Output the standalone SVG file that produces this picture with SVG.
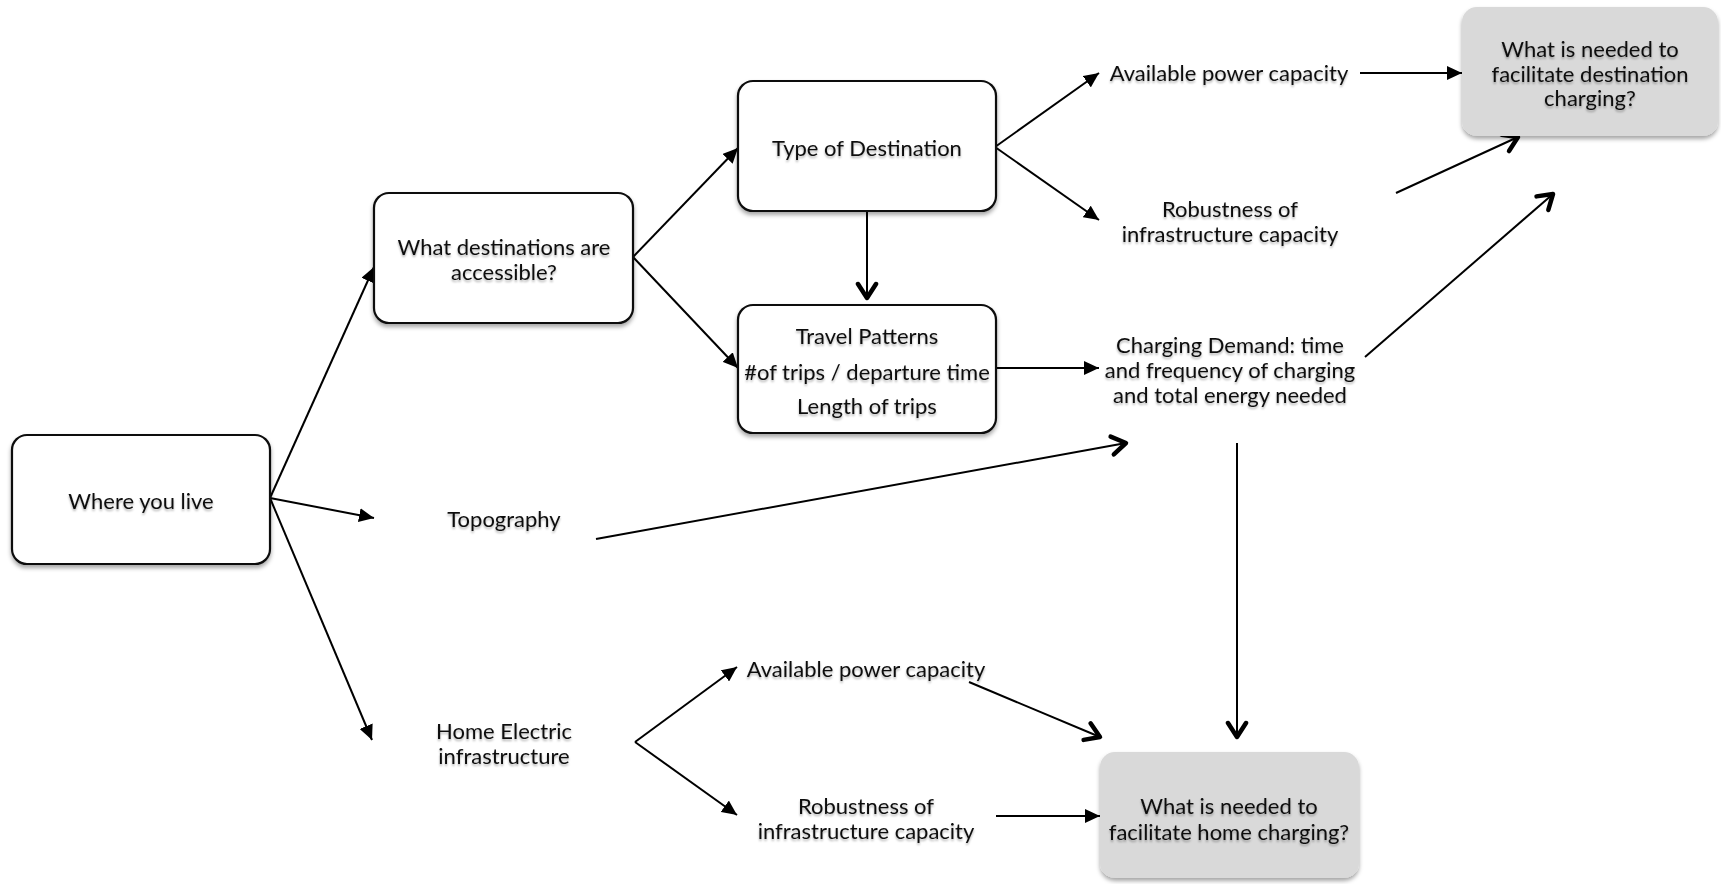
<svg xmlns="http://www.w3.org/2000/svg" width="1721" height="884" viewBox="0 0 1721 884">
<style>
text{font-family:Lato,"Liberation Sans",sans-serif;font-size:22px;fill:#111;text-anchor:middle;}
.box{fill:#fff;stroke:#111;stroke-width:2.2;}
.gbox{fill:#d9d9d9;stroke:none;}
.c line{stroke:#000;stroke-width:2;fill:none;}
.f{marker-end:url(#tri);}
.o{marker-end:url(#vee);}
</style>
<defs>
<filter id="sh" x="-10%" y="-10%" width="120%" height="130%">
<feDropShadow dx="0" dy="3" stdDeviation="2" flood-color="#000" flood-opacity="0.35"/>
</filter>
<filter id="tsh" x="-10%" y="-20%" width="120%" height="160%">
<feDropShadow dx="0" dy="2" stdDeviation="1.2" flood-color="#000" flood-opacity="0.3"/>
</filter>
<marker id="tri" markerUnits="userSpaceOnUse" markerWidth="16" markerHeight="14" refX="15" refY="7" orient="auto">
<path d="M0,0 L15,7 L0,14 z" fill="#000"/>
</marker>
<marker id="vee" markerUnits="userSpaceOnUse" markerWidth="22" markerHeight="24" refX="17" refY="12" orient="auto">
<path d="M3,3 L17,12 L3,21" fill="none" stroke="#000" stroke-width="4.5" stroke-linecap="round" stroke-linejoin="round"/>
</marker>
</defs>
<rect width="1721" height="884" fill="#fff"/>

<g class="c" id="connectors">
<line class="f" x1="270" y1="498" x2="374" y2="267"/>
<line class="f" x1="270" y1="498" x2="374" y2="518"/>
<line class="f" x1="270" y1="498" x2="372" y2="740"/>
<line class="f" x1="633" y1="257" x2="738" y2="148"/>
<line class="f" x1="633" y1="257" x2="738" y2="368"/>
<line class="o" x1="867" y1="192" x2="867" y2="298"/>
<line class="f" x1="995" y1="147" x2="1099" y2="73"/>
<line class="f" x1="995" y1="147" x2="1099" y2="220"/>
<line class="f" x1="1360" y1="73" x2="1462" y2="73"/>
<line class="o" x1="1396" y1="193" x2="1518" y2="137"/>
<line class="f" x1="995" y1="368" x2="1099" y2="368"/>
<line class="o" x1="1365" y1="357" x2="1553" y2="194"/>
<line class="o" x1="596" y1="539" x2="1126" y2="443"/>
<line class="o" x1="1237" y1="443" x2="1237" y2="737"/>
<line class="f" x1="635" y1="742" x2="737" y2="667"/>
<line class="f" x1="635" y1="742" x2="737" y2="815"/>
<line class="o" x1="969" y1="682" x2="1100" y2="737"/>
<line class="f" x1="996" y1="816" x2="1100" y2="816"/>
</g>

<g id="where-you-live">
<rect class="box" x="12" y="435" width="258" height="129" rx="15" filter="url(#sh)"/>
<text x="141" y="509" filter="url(#tsh)">Where you live</text>
</g>

<g id="what-destinations">
<rect class="box" x="374" y="193" width="259" height="130" rx="15" filter="url(#sh)"/>
<text x="504" y="255" filter="url(#tsh)">What destinations are</text>
<text x="504" y="280" filter="url(#tsh)">accessible?</text>
</g>

<g id="topography">
<text x="504" y="527" filter="url(#tsh)">Topography</text>
</g>

<g id="home-electric">
<text x="504" y="739" filter="url(#tsh)">Home Electric</text>
<text x="504" y="764" filter="url(#tsh)">infrastructure</text>
</g>

<g id="type-of-destination">
<rect class="box" x="738" y="81" width="258" height="130" rx="15" filter="url(#sh)"/>
<text x="867" y="156" filter="url(#tsh)">Type of Destination</text>
</g>

<g id="travel-patterns">
<rect class="box" x="738" y="305" width="258" height="128" rx="15" filter="url(#sh)"/>
<text x="867" y="344" filter="url(#tsh)">Travel Patterns</text>
<text x="867" y="380" filter="url(#tsh)">#of trips / departure time</text>
<text x="867" y="414" filter="url(#tsh)">Length of trips</text>
</g>

<g id="dest-available-power">
<text x="1229" y="81" filter="url(#tsh)">Available power capacity</text>
</g>

<g id="dest-robustness">
<text x="1230" y="217" filter="url(#tsh)">Robustness of</text>
<text x="1230" y="242" filter="url(#tsh)">infrastructure capacity</text>
</g>

<g id="charging-demand">
<text x="1230" y="353" filter="url(#tsh)">Charging Demand: time</text>
<text x="1230" y="378" filter="url(#tsh)">and frequency of charging</text>
<text x="1230" y="403" filter="url(#tsh)">and total energy needed</text>
</g>

<g id="destination-charging">
<rect class="gbox" x="1462" y="7" width="256" height="129" rx="15" filter="url(#sh)"/>
<text x="1590" y="57" filter="url(#tsh)">What is needed to</text>
<text x="1590" y="82" filter="url(#tsh)">facilitate destination</text>
<text x="1590" y="106" filter="url(#tsh)">charging?</text>
</g>

<g id="home-available-power">
<text x="866" y="677" filter="url(#tsh)">Available power capacity</text>
</g>

<g id="home-robustness">
<text x="866" y="814" filter="url(#tsh)">Robustness of</text>
<text x="866" y="839" filter="url(#tsh)">infrastructure capacity</text>
</g>

<g id="home-charging">
<rect class="gbox" x="1100" y="752" width="259" height="126" rx="15" filter="url(#sh)"/>
<text x="1229" y="814" filter="url(#tsh)">What is needed to</text>
<text x="1229" y="840" filter="url(#tsh)">facilitate home charging?</text>
</g>
</svg>
